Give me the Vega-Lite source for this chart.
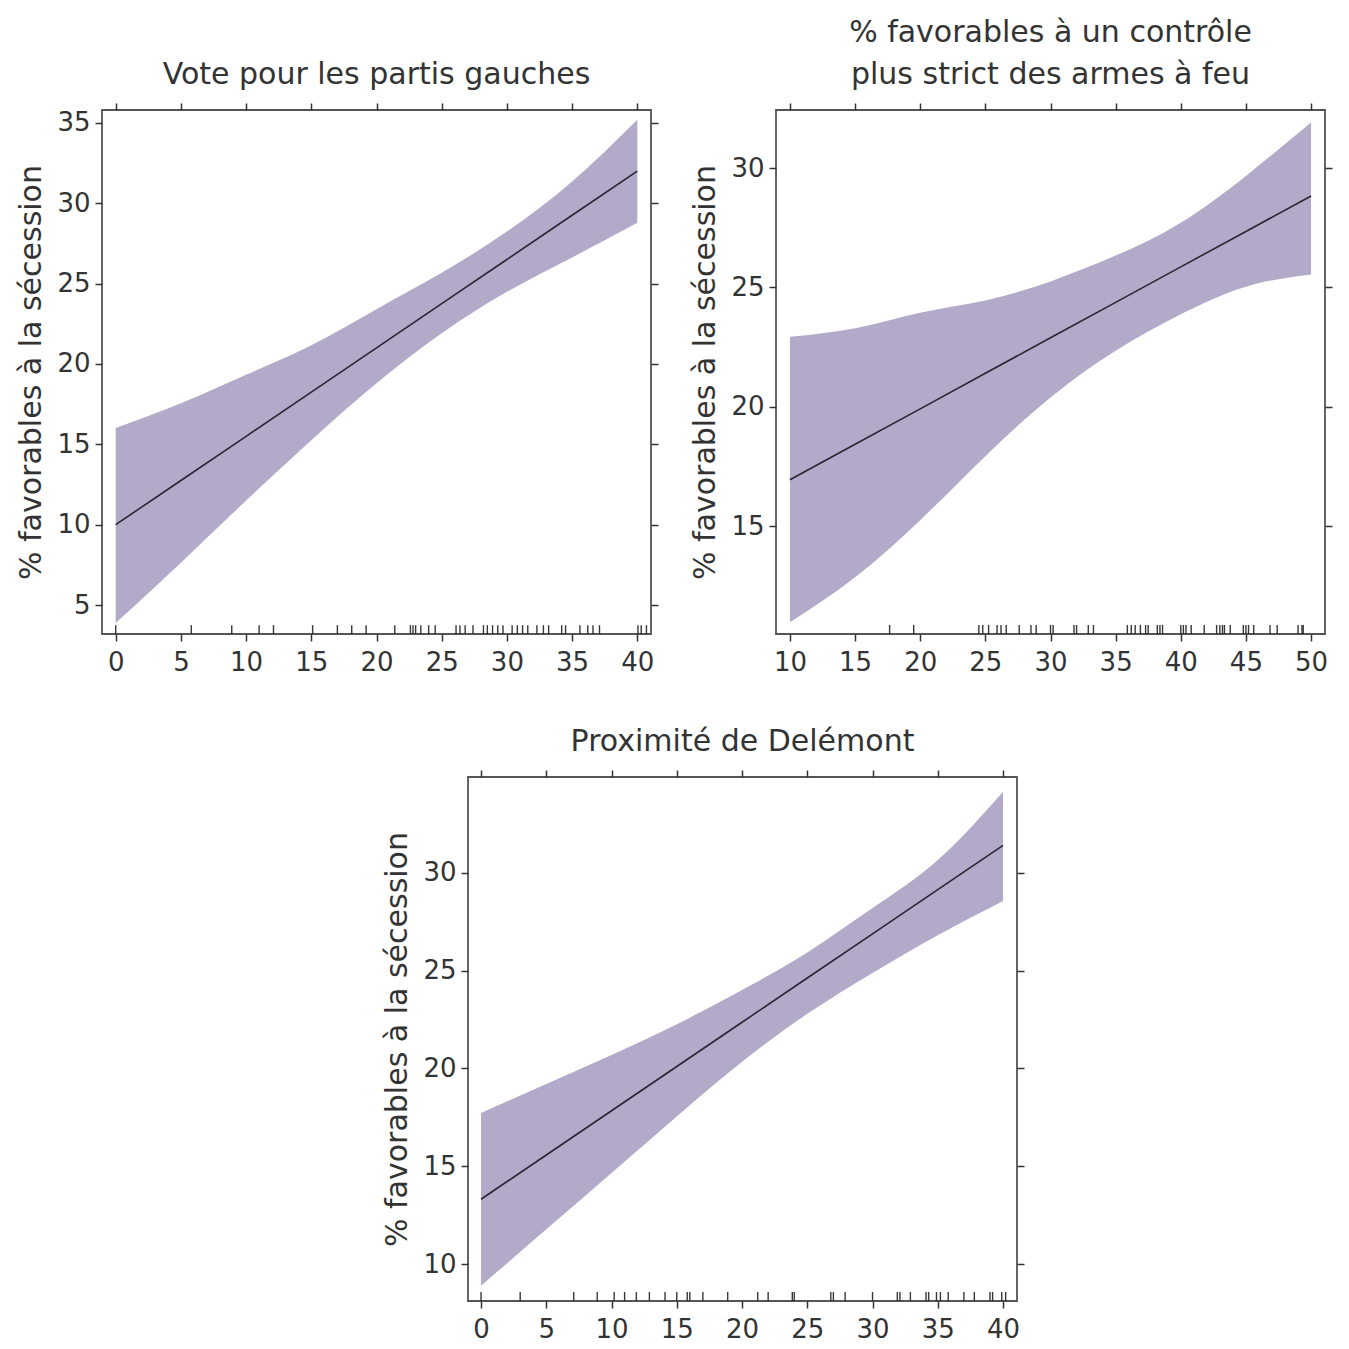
{
  "$schema": "https://vega.github.io/schema/vega-lite/v6.json",
  "background": "white",
  "padding": {"left": 16, "top": 17, "right": 5, "bottom": 0},
  "config": {
    "font": "DejaVu Sans",
    "view": {"stroke": "#555555", "strokeWidth": 1.8},
    "axis": {"domain": false, "grid": false, "tickColor": "#333333", "tickSize": 7, "tickWidth": 1.5, "labelColor": "#333333", "labelFontSize": 26, "labelFont": "DejaVu Sans", "titleFont": "DejaVu Sans", "titleFontSize": 30, "titleFontWeight": "normal", "titleColor": "#333333", "labelPadding": 5},
    "axisBottom": {"labelPadding": 8},
    "title": {"fontSize": 30, "fontWeight": "normal", "color": "#333333", "font": "DejaVu Sans", "offset": 12, "lineHeight": 42}
  },
  "datasets": {
    "b1": [
      {"x": 0, "lo": 3.88, "hi": 16.01, "fit": 10.0},
      {"x": 5, "lo": 7.64, "hi": 17.55, "fit": 12.75},
      {"x": 10, "lo": 11.5, "hi": 19.33, "fit": 15.5},
      {"x": 15, "lo": 15.26, "hi": 21.16, "fit": 18.25},
      {"x": 20, "lo": 18.8, "hi": 23.41, "fit": 21.0},
      {"x": 25, "lo": 21.91, "hi": 25.67, "fit": 23.75},
      {"x": 30, "lo": 24.49, "hi": 28.24, "fit": 26.5},
      {"x": 35, "lo": 26.63, "hi": 31.35, "fit": 29.25},
      {"x": 40, "lo": 28.78, "hi": 35.2, "fit": 32.0}
    ],
    "r1": [
      {"x": 0}, {"x": 5.8}, {"x": 8.9}, {"x": 11.0}, {"x": 12.1}, {"x": 15.1}, {"x": 17.0}, {"x": 18.1}, {"x": 19.2}, {"x": 21.4},
      {"x": 22.6}, {"x": 22.8}, {"x": 23.0}, {"x": 23.4}, {"x": 24.0}, {"x": 24.5}, {"x": 26.1}, {"x": 26.4}, {"x": 26.8}, {"x": 27.4},
      {"x": 28.2}, {"x": 28.5}, {"x": 28.9}, {"x": 29.3}, {"x": 29.7}, {"x": 30.4}, {"x": 30.8}, {"x": 31.2}, {"x": 31.6}, {"x": 32.3},
      {"x": 32.8}, {"x": 33.2}, {"x": 34.2}, {"x": 34.5}, {"x": 35.6}, {"x": 36.2}, {"x": 36.6}, {"x": 37.1}, {"x": 40.05}, {"x": 40.3}, {"x": 40.7}
    ],
    "b2": [
      {"x": 10, "lo": 10.97, "hi": 22.93, "fit": 16.94},
      {"x": 15, "lo": 12.86, "hi": 23.29, "fit": 18.43},
      {"x": 20, "lo": 15.25, "hi": 23.94, "fit": 19.91},
      {"x": 25, "lo": 17.93, "hi": 24.45, "fit": 21.4},
      {"x": 30, "lo": 20.39, "hi": 25.25, "fit": 22.89},
      {"x": 35, "lo": 22.35, "hi": 26.33, "fit": 24.37},
      {"x": 40, "lo": 23.87, "hi": 27.71, "fit": 25.86},
      {"x": 45, "lo": 25.03, "hi": 29.67, "fit": 27.34},
      {"x": 50, "lo": 25.54, "hi": 31.91, "fit": 28.83}
    ],
    "r2": [
      {"x": 17.65}, {"x": 19.5}, {"x": 24.5}, {"x": 24.8}, {"x": 25.25}, {"x": 25.9}, {"x": 26.2}, {"x": 26.6}, {"x": 27.6}, {"x": 28.5},
      {"x": 28.9}, {"x": 30.0}, {"x": 30.2}, {"x": 31.8}, {"x": 32.0}, {"x": 32.9}, {"x": 33.3}, {"x": 35.9}, {"x": 36.2}, {"x": 36.5},
      {"x": 36.9}, {"x": 37.3}, {"x": 37.5}, {"x": 38.2}, {"x": 38.4}, {"x": 38.6}, {"x": 40.0}, {"x": 40.2}, {"x": 40.4}, {"x": 40.8},
      {"x": 41.8}, {"x": 42.75}, {"x": 43.0}, {"x": 43.2}, {"x": 43.35}, {"x": 43.8}, {"x": 44.8}, {"x": 45.0}, {"x": 45.2}, {"x": 45.6},
      {"x": 46.85}, {"x": 47.4}, {"x": 49.0}, {"x": 49.3}, {"x": 49.4}
    ],
    "b3": [
      {"x": 0, "lo": 8.9, "hi": 17.72, "fit": 13.32},
      {"x": 5, "lo": 11.78, "hi": 19.21, "fit": 15.58},
      {"x": 10, "lo": 14.66, "hi": 20.69, "fit": 17.84},
      {"x": 15, "lo": 17.55, "hi": 22.26, "fit": 20.1},
      {"x": 20, "lo": 20.34, "hi": 24.01, "fit": 22.36},
      {"x": 25, "lo": 22.79, "hi": 25.93, "fit": 24.62},
      {"x": 30, "lo": 24.88, "hi": 28.2, "fit": 26.88},
      {"x": 35, "lo": 26.8, "hi": 30.65, "fit": 29.14},
      {"x": 40, "lo": 28.55, "hi": 34.14, "fit": 31.4}
    ],
    "r3": [
      {"x": 0}, {"x": 3.0}, {"x": 7.1}, {"x": 8.9}, {"x": 10.2}, {"x": 11.0}, {"x": 11.9}, {"x": 12.9}, {"x": 14.1}, {"x": 15.0},
      {"x": 15.8}, {"x": 16.0}, {"x": 17.0}, {"x": 18.9}, {"x": 21.2}, {"x": 22.0}, {"x": 23.85}, {"x": 24.0}, {"x": 26.8}, {"x": 27.0},
      {"x": 27.9}, {"x": 30.0}, {"x": 31.9}, {"x": 32.1}, {"x": 32.9}, {"x": 34.1}, {"x": 34.3}, {"x": 34.9}, {"x": 35.2}, {"x": 35.8},
      {"x": 37.0}, {"x": 37.8}, {"x": 39.0}, {"x": 39.2}, {"x": 39.9}, {"x": 40.2}
    ]
  },
  "vconcat": [
    {
      "hconcat": [
        {
          "width": 549, "height": 524,
          "title": "Vote pour les partis gauches",
          "resolve": {"axis": {"x": "independent", "y": "independent"}},
          "layer": [
            {
              "data": {"name": "b1"},
              "mark": {"type": "area", "color": "#b2aac8", "opacity": 1, "interpolate": "natural"},
              "encoding": {
                "x": {"field": "x", "type": "quantitative", "scale": {"domain": [-1.05, 41.05], "nice": false, "zero": false}, "axis": {"orient": "bottom", "title": null, "values": [0, 5, 10, 15, 20, 25, 30, 35, 40]}},
                "y": {"field": "lo", "type": "quantitative", "scale": {"domain": [3.2, 35.8], "nice": false, "zero": false}, "axis": {"orient": "left", "title": "% favorables à la sécession", "values": [5, 10, 15, 20, 25, 30, 35], "titlePadding": 10}},
                "y2": {"field": "hi"}
              }
            },
            {
              "data": {"name": "b1"},
              "mark": {"type": "line", "color": "#2b2533", "strokeWidth": 1.6},
              "encoding": {
                "x": {"field": "x", "type": "quantitative", "axis": {"orient": "top", "labels": false, "title": null, "values": [0, 5, 10, 15, 20, 25, 30, 35, 40]}},
                "y": {"field": "fit", "type": "quantitative", "axis": {"orient": "right", "labels": false, "title": null, "values": [5, 10, 15, 20, 25, 30, 35]}}
              }
            },
            {
              "data": {"name": "r1"},
              "mark": {"type": "rule", "color": "#222222", "strokeWidth": 1.4, "opacity": 0.9},
              "encoding": {
                "x": {"field": "x", "type": "quantitative", "axis": null},
                "y": {"datum": 3.2, "type": "quantitative", "axis": null},
                "y2": {"datum": 3.75}
              }
            }
          ]
        },
        {
          "width": 549, "height": 524,
          "title": ["% favorables à un contrôle", "plus strict des armes à feu"],
          "resolve": {"axis": {"x": "independent", "y": "independent"}},
          "layer": [
            {
              "data": {"name": "b2"},
              "mark": {"type": "area", "color": "#b2aac8", "opacity": 1, "interpolate": "natural"},
              "encoding": {
                "x": {"field": "x", "type": "quantitative", "scale": {"domain": [8.93, 51.07], "nice": false, "zero": false}, "axis": {"orient": "bottom", "title": null, "values": [10, 15, 20, 25, 30, 35, 40, 45, 50]}},
                "y": {"field": "lo", "type": "quantitative", "scale": {"domain": [10.48, 32.43], "nice": false, "zero": false}, "axis": {"orient": "left", "title": "% favorables à la sécession", "values": [15, 20, 25, 30], "titlePadding": 10}},
                "y2": {"field": "hi"}
              }
            },
            {
              "data": {"name": "b2"},
              "mark": {"type": "line", "color": "#2b2533", "strokeWidth": 1.6},
              "encoding": {
                "x": {"field": "x", "type": "quantitative", "axis": {"orient": "top", "labels": false, "title": null, "values": [10, 15, 20, 25, 30, 35, 40, 45, 50]}},
                "y": {"field": "fit", "type": "quantitative", "axis": {"orient": "right", "labels": false, "title": null, "values": [15, 20, 25, 30]}}
              }
            },
            {
              "data": {"name": "r2"},
              "mark": {"type": "rule", "color": "#222222", "strokeWidth": 1.4, "opacity": 0.9},
              "encoding": {
                "x": {"field": "x", "type": "quantitative", "axis": null},
                "y": {"datum": 10.48, "type": "quantitative", "axis": null},
                "y2": {"datum": 10.86}
              }
            }
          ]
        }
      ],
      "spacing": 30
    },
    {
      "hconcat": [
        {
          "width": 260, "height": 524,
          "view": {"stroke": null},
          "data": {"values": []},
          "mark": {"type": "point", "opacity": 0},
          "encoding": {}
        },
        {
          "width": 549, "height": 524,
          "title": "Proximité de Delémont",
          "resolve": {"axis": {"x": "independent", "y": "independent"}},
          "layer": [
            {
              "data": {"name": "b3"},
              "mark": {"type": "area", "color": "#b2aac8", "opacity": 1, "interpolate": "natural"},
              "encoding": {
                "x": {"field": "x", "type": "quantitative", "scale": {"domain": [-1.0, 41.07], "nice": false, "zero": false}, "axis": {"orient": "bottom", "title": null, "values": [0, 5, 10, 15, 20, 25, 30, 35, 40]}},
                "y": {"field": "lo", "type": "quantitative", "scale": {"domain": [8.12, 34.89], "nice": false, "zero": false}, "axis": {"orient": "left", "title": "% favorables à la sécession", "values": [10, 15, 20, 25, 30], "titlePadding": 10}},
                "y2": {"field": "hi"}
              }
            },
            {
              "data": {"name": "b3"},
              "mark": {"type": "line", "color": "#2b2533", "strokeWidth": 1.6},
              "encoding": {
                "x": {"field": "x", "type": "quantitative", "axis": {"orient": "top", "labels": false, "title": null, "values": [0, 5, 10, 15, 20, 25, 30, 35, 40]}},
                "y": {"field": "fit", "type": "quantitative", "axis": {"orient": "right", "labels": false, "title": null, "values": [10, 15, 20, 25, 30]}}
              }
            },
            {
              "data": {"name": "r3"},
              "mark": {"type": "rule", "color": "#222222", "strokeWidth": 1.4, "opacity": 0.9},
              "encoding": {
                "x": {"field": "x", "type": "quantitative", "axis": null},
                "y": {"datum": 8.12, "type": "quantitative", "axis": null},
                "y2": {"datum": 8.58}
              }
            }
          ]
        }
      ],
      "spacing": 20
    }
  ],
  "spacing": 50
}
